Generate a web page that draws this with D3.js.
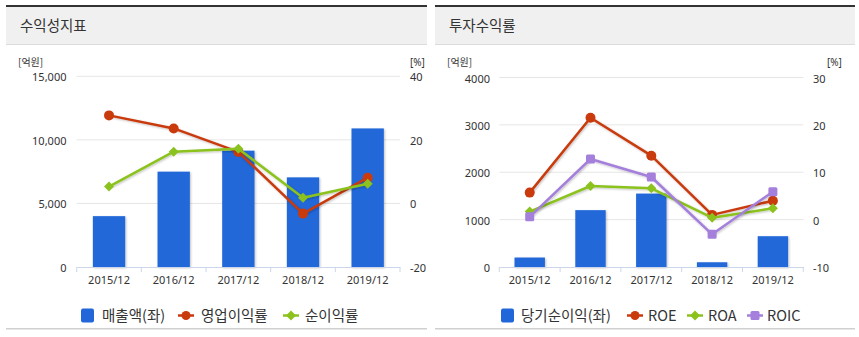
<!DOCTYPE html>
<html>
<head>
<meta charset="utf-8">
<script src="https://cdn.jsdelivr.net/npm/d3@7"></script>
<style>
  html, body { margin: 0; padding: 0; background: #fff; }
  svg { display: block; font-family: "Noto Sans", "Noto Sans CJK KR", sans-serif; }
</style>
</head>
<body>
<svg id="chart" width="859" height="337"></svg>
<script>
// ---------- data ----------
const categories = ["2015/12", "2016/12", "2017/12", "2018/12", "2019/12"];

// 수익성지표
const revenue   = [4000, 7500, 9150, 7050, 10900];   // 매출액(좌) [억원]
const opMargin  = [27.7, 23.6, 16.2, -3.2, 8.1];     // 영업이익률 [%]
const netMargin = [5.3, 16.3, 17.2, 1.8, 6.2];       // 순이익률 [%]
const leftTicksA  = [0, 5000, 10000, 15000];
const rightTicksA = [-20, 0, 20, 40];

// 투자수익률
const netIncome = [200, 1200, 1550, 100, 650];       // 당기순이익(좌) [억원]
const roe  = [5.7, 21.5, 13.5, 1.0, 4.0];
const roa  = [1.7, 7.1, 6.6, 0.4, 2.4];
const roic = [0.6, 12.8, 9.0, -3.1, 5.9];
const leftTicksB  = [0, 1000, 2000, 3000, 4000];
const rightTicksB = [-10, 0, 10, 20, 30];

// ---------- style ----------
const BLUE = "#2167d9", RED = "#c93a0c", GREEN = "#8cc21e", PURPLE = "#a47fdb";

const svg = d3.select("#chart");
const defs = svg.append("defs");
const f = defs.append("filter").attr("id", "shadow").attr("x", "-20%").attr("y", "-20%").attr("width", "150%").attr("height", "150%");
f.append("feDropShadow").attr("dx", 1).attr("dy", 1).attr("stdDeviation", 1).attr("flood-color", "#000").attr("flood-opacity", 0.25);

function panel(x, w, title) {
  svg.append("rect").attr("x", x).attr("y", 7).attr("width", w).attr("height", 38).attr("fill", "#f0f0f0");
  svg.append("rect").attr("x", x).attr("y", 5).attr("width", w).attr("height", 2).attr("fill", "#333");
  svg.append("rect").attr("x", x).attr("y", 44).attr("width", w).attr("height", 1).attr("fill", "#dcdcdc");
  svg.append("text").attr("x", x + 14).attr("y", 31).attr("font-size", 14.5).attr("fill", "#333")
     .attr("font-family", "'Noto Sans CJK KR', sans-serif").text(title);
  svg.append("rect").attr("x", x).attr("y", 328).attr("width", w).attr("height", 1.5).attr("fill", "#d0d0d0");
}
panel(6, 421, "수익성지표");
panel(435, 420, "투자수익률");

function symbol(g, shape, color, cx, cy, size) {
  if (shape === "circle") {
    g.append("circle").attr("cx", cx).attr("cy", cy).attr("r", size).attr("fill", color);
  } else if (shape === "diamond") {
    const s = size + 0.5;
    g.append("path").attr("d", `M${cx},${cy - s}L${cx + s},${cy}L${cx},${cy + s}L${cx - s},${cy}Z`).attr("fill", color);
  } else if (shape === "square") {
    g.append("rect").attr("x", cx - size).attr("y", cy - size).attr("width", size * 2).attr("height", size * 2)
     .attr("rx", 1.5).attr("fill", color);
  }
}

function drawChart(cfg) {
  const g = svg.append("g");
  const x = d3.scaleBand().domain(categories).range([cfg.x0, cfg.x1]).paddingInner(0).paddingOuter(0);
  const yL = d3.scaleLinear().domain(cfg.leftDomain).range([cfg.yBottom, cfg.yTop]);
  const yR = d3.scaleLinear().domain(cfg.rightDomain).range([cfg.yBottom, cfg.yTop]);
  const bw = x.bandwidth();

  // gridlines
  g.append("g").selectAll("line").data(cfg.leftTicks.filter(d => d !== cfg.leftDomain[0])).join("line")
    .attr("x1", cfg.x0).attr("x2", cfg.x1).attr("y1", d => yL(d)).attr("y2", d => yL(d))
    .attr("stroke", "#e6e6e6").attr("stroke-width", 1);

  // left axis labels
  g.append("g").selectAll("text").data(cfg.leftTicks).join("text")
    .attr("x", cfg.leftLabelX).attr("y", d => yL(d) + 5).attr("text-anchor", "end")
    .attr("font-size", 11).attr("fill", "#333").text(d => cfg.leftFmt(d));
  // right axis labels
  g.append("g").selectAll("text").data(cfg.rightTicks).join("text")
    .attr("x", cfg.rightLabelX).attr("y", d => yR(d) + 5).attr("text-anchor", "start")
    .attr("font-size", 11).attr("fill", "#333").text(d => d);
  // units
  g.append("text").attr("x", cfg.unitLeftX).attr("y", 66).attr("font-size", 10).attr("fill", "#333")
    .attr("font-family", "'Noto Sans CJK KR', sans-serif").text("[억원]");
  g.append("text").attr("x", cfg.unitRightX).attr("y", 66).attr("font-size", 10).attr("fill", "#333").text("[%]");

  // bars
  g.append("g").selectAll("rect").data(cfg.bars).join("rect")
    .attr("x", (d, i) => x(categories[i]) + bw * 0.25)
    .attr("width", bw * 0.5)
    .attr("y", d => yL(d))
    .attr("height", d => yL(cfg.leftDomain[0]) - yL(d))
    .attr("fill", BLUE).attr("filter", "url(#shadow)");

  // x axis
  const axisY = yL(cfg.leftDomain[0]);
  const ax = g.append("g").attr("transform", `translate(0,${axisY})`)
    .call(d3.axisBottom(x).tickSize(0).tickPadding(9));
  ax.select(".domain").attr("stroke", "#ccd6eb");
  ax.selectAll("text").attr("font-size", 11).attr("fill", "#333").attr("font-family", "'Noto Sans', sans-serif");
  const bounds = categories.map(c => x(c)).concat([cfg.x1]);
  g.append("g").selectAll("line").data(bounds).join("line")
    .attr("x1", d => d).attr("x2", d => d).attr("y1", axisY).attr("y2", axisY + 5)
    .attr("stroke", "#ccd6eb").attr("stroke-width", 1);

  // lines
  cfg.lines.forEach(s => {
    const line = d3.line().x((d, i) => x(categories[i]) + bw / 2).y(d => yR(d));
    g.append("path").datum(s.values).attr("d", line).attr("fill", "none")
      .attr("stroke", s.color).attr("stroke-width", 2.5).attr("stroke-linejoin", "round")
      .attr("filter", "url(#shadow)");
    const mg = g.append("g");
    s.values.forEach((v, i) => symbol(mg, s.shape, s.color, x(categories[i]) + bw / 2, yR(v), s.size));
  });

  // legend
  const lg = svg.append("g");
  const ly = 315.5;
  cfg.legend.forEach(item => {
    const lx = item.x;
    if (item.shape === "bar") {
      lg.append("rect").attr("x", lx).attr("y", ly - 7).attr("width", 13).attr("height", 14).attr("rx", 2).attr("fill", BLUE);
    } else {
      lg.append("line").attr("x1", lx).attr("x2", lx + 16).attr("y1", ly).attr("y2", ly)
        .attr("stroke", item.color).attr("stroke-width", 2.5);
      symbol(lg, item.shape, item.color, lx + 8, ly, 4.5);
    }
    lg.append("text").attr("x", item.tx).attr("y", ly + 5).attr("font-size", 14.5).attr("fill", "#333")
      .attr("font-family", "'Noto Sans CJK KR', sans-serif").text(item.label);
  });
}

drawChart({
  x0: 76.7, x1: 400, yTop: 76.3, yBottom: 267,
  leftDomain: [0, 15000], rightDomain: [-20, 40],
  leftTicks: leftTicksA, rightTicks: rightTicksA, leftFmt: d3.format(","),
  leftLabelX: 66.5, rightLabelX: 410, unitLeftX: 18, unitRightX: 410,
  bars: revenue,
  lines: [
    { values: opMargin, color: RED, shape: "circle", size: 5 },
    { values: netMargin, color: GREEN, shape: "diamond", size: 4.5 }
  ],
  legend: [
    { shape: "bar", label: "매출액(좌)", x: 81, tx: 102 },
    { shape: "circle", color: RED, label: "영업이익률", x: 178, tx: 201 },
    { shape: "diamond", color: GREEN, label: "순이익률", x: 283, tx: 305 }
  ]
});

drawChart({
  x0: 499.3, x1: 803.3, yTop: 77.5, yBottom: 267,
  leftDomain: [0, 4000], rightDomain: [-10, 30],
  leftTicks: leftTicksB, rightTicks: rightTicksB, leftFmt: d => String(d),
  leftLabelX: 490, rightLabelX: 813, unitLeftX: 447, unitRightX: 827,
  bars: netIncome,
  lines: [
    { values: roe, color: RED, shape: "circle", size: 5 },
    { values: roa, color: GREEN, shape: "diamond", size: 4.5 },
    { values: roic, color: PURPLE, shape: "square", size: 4.5 }
  ],
  legend: [
    { shape: "bar", label: "당기순이익(좌)", x: 501, tx: 521 },
    { shape: "circle", color: RED, label: "ROE", x: 627, tx: 648 },
    { shape: "diamond", color: GREEN, label: "ROA", x: 687, tx: 708 },
    { shape: "square", color: PURPLE, label: "ROIC", x: 747, tx: 767 }
  ]
});
</script>
</body>
</html>
